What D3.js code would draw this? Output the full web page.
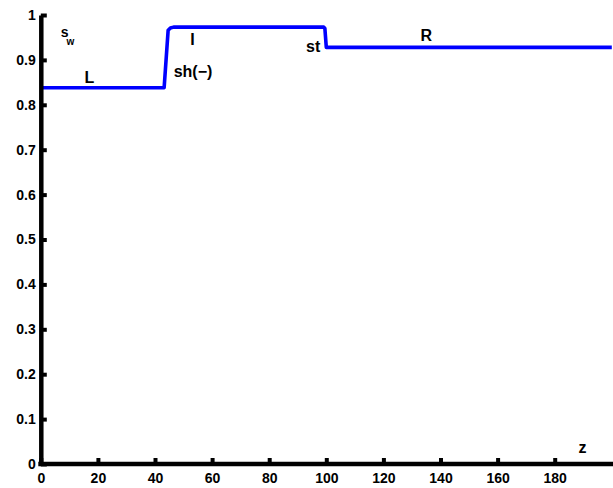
<!DOCTYPE html>
<html><head><meta charset="utf-8">
<script src="https://d3js.org/d3.v7.min.js"></script>
<style>body{margin:0;background:#fff}svg{display:block}text{font-family:"Liberation Sans",Arial,sans-serif;font-weight:bold;fill:#000}</style>
</head><body>
<script>
const zValues = [0, 43.2, 44.6, 45.4, 46.5, 99.1, 99.5, 100.0, 200];
const swValues = [0.838, 0.838, 0.966, 0.971, 0.973, 0.973, 0.97, 0.928, 0.928];
const xTicks = [0, 20, 40, 60, 80, 100, 120, 140, 160, 180];
const yTicks = [0, 0.1, 0.2, 0.3, 0.4, 0.5, 0.6, 0.7, 0.8, 0.9, 1];
const annotations = [
  {t: "L", z: 17.0, s: 0.849},
  {t: "I", z: 53.1, s: 0.933},
  {t: "sh(\u2212)", z: 53.3, s: 0.862},
  {t: "st", z: 95.4, s: 0.918},
  {t: "R", z: 135.0, s: 0.942},
  {t: "z", z: 189.7, s: 0.024}
];
const W = 613, H = 488;
const x = d3.scaleLinear().domain([0, 200]).range([40.8, 611.8]);
const y = d3.scaleLinear().domain([0, 1]).range([464, 15]);
const svg = d3.select("body").append("svg").attr("width", W).attr("height", H);

// line (under axes)
const line = d3.line().x((d, i) => x(zValues[i])).y(d => y(d));
svg.append("path").datum(swValues).attr("d", line)
  .attr("fill", "none").attr("stroke", "#0000ff").attr("stroke-width", 3.6).attr("stroke-linejoin", "round");

// axes
const xAx = svg.append("g").attr("transform", `translate(0,${y(0)})`)
  .call(d3.axisBottom(x).tickValues(xTicks).tickSize(-6).tickSizeOuter(0).tickPadding(9).tickFormat(d3.format("d")));
const yAx = svg.append("g").attr("transform", `translate(${x(0)},0)`)
  .call(d3.axisLeft(y).tickValues(yTicks).tickSize(-6).tickSizeOuter(0).tickPadding(5).tickFormat(d => d === 0 ? "0" : d === 1 ? "1" : d3.format(".1f")(d)));
xAx.select(".domain").attr("d", `M${x(0) - 2.5},0H613`);
[xAx, yAx].forEach(g => {
  g.select(".domain").attr("stroke", "#000").attr("stroke-width", 4.5);
  g.selectAll(".tick line").attr("stroke", "#000").attr("stroke-width", 4);
  g.selectAll(".tick text").style("font-size", "14px").style("font-weight", "bold").attr("fill", "#000")
    .style("font-family", "Liberation Sans, Arial, sans-serif");
});

// labels
annotations.forEach(a => {
  svg.append("text").attr("x", x(a.z)).attr("y", y(a.s)).attr("text-anchor", "middle")
    .style("font-size", "16px").text(a.t);
});
const sw = svg.append("text").attr("x", x(7.0)).attr("y", y(0.952)).style("font-size", "14px");
sw.append("tspan").text("s");
sw.append("tspan").attr("dy", 8).attr("dx", -2).style("font-size", "10px").text("w");
</script>
</body></html>
